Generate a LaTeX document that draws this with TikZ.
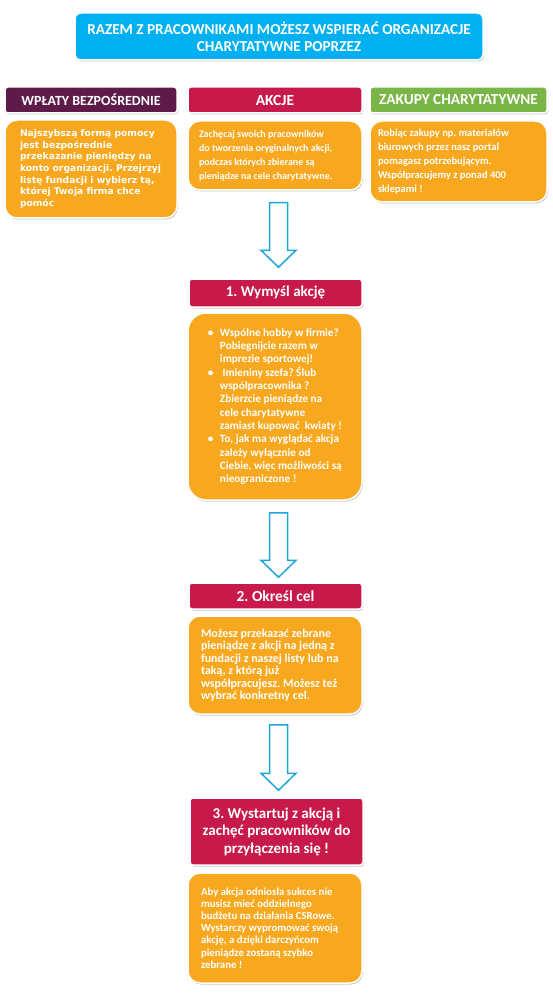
\documentclass[tikz,border=0pt]{standalone}
\usepackage{fontspec}
\setmainfont{Carlito}
\newfontfamily\verd{DejaVu Sans}
\usetikzlibrary{shadows,calc}
\frenchspacing
\definecolor{cyanbox}{RGB}{0,176,240}
\definecolor{plum}{RGB}{94,27,74}
\definecolor{crimson}{RGB}{200,26,74}
\definecolor{leaf}{RGB}{122,181,72}
\definecolor{amber}{RGB}{248,168,30}
\definecolor{arrowblue}{RGB}{30,166,216}
\newcommand\bul{\makebox[12pt][l]{•}}
\newcommand\ind{\hspace*{12pt}}
\newcommand\blockarrow[4]{%
  \draw[blockarr] let \p1=(#1.south -| ax), \p2=(#2.north -| ax) in
    (\x1-9pt,\y1-#3) -- (\x1+9pt,\y1-#3) -- (\x1+9pt,\y2+#4+17pt)
    -- (\x1+17.5pt,\y2+#4+17pt) -- (\x1,\y2+#4) -- (\x1-17.5pt,\y2+#4+17pt)
    -- (\x1-9pt,\y2+#4+17pt) -- cycle;}
\tikzset{
  box/.style={draw=white, line width=1.5pt, text=white, inner sep=0pt,
    drop shadow={shadow xshift=1pt, shadow yshift=-1.5pt, opacity=0.35, fill=black!60}},
  titlebox/.style={box, fill=cyanbox, rounded corners=6pt, align=center,
    font=\fontsize{15.2}{17}\selectfont\bfseries},
  hdr/.style={box, rounded corners=3pt, minimum height=26pt, align=center,
    font=\fontsize{15.5}{17}\selectfont\bfseries},
  obox/.style={box, fill=amber, rounded corners=12pt, align=left,
    font=\fontsize{10.5}{13}\selectfont\bfseries},
  blockarr/.style={draw=arrowblue, line width=1.5pt, fill=white, line join=miter}
}
\begin{document}
\begin{tikzpicture}[x=1pt,y=-1pt]
\fill[white] (0,0) rectangle (553,1000);
\useasboundingbox (0,0) rectangle (553,1000);
\coordinate (ax) at (278.5,0);

\node[titlebox, minimum width=408pt, minimum height=47pt] (title) at (279,36.5)
  {RAZEM Z PRACOWNIKAMI MOŻESZ WSPIERAĆ ORGANIZACJE\\CHARYTATYWNE POPRZEZ};

\node[hdr, fill=plum, minimum width=172pt, font=\fontsize{14}{16}\selectfont\bfseries] (h1) at (91,100) {WPŁATY BEZPOŚREDNIE};
\node[hdr, fill=crimson, minimum width=174pt] (h2) at (275,100) {AKCJE};
\node[hdr, fill=leaf, minimum width=177pt, font=\fontsize{15.3}{17}\selectfont\bfseries] (h3) at (458.5,100) {ZAKUPY CHARYTATYWNE};

\node[obox, minimum width=172pt, minimum height=98pt, font=\verd\fontsize{9.2}{11.7}\selectfont\bfseries] (o1) at (91,169)
  {\makebox[142pt][l]{Najszybszą formą pomocy}\\jest bezpośrednie\\przekazanie pieniędzy na\\konto organizacji. Przejrzyj\\listę fundacji i wybierz tą,\\której Twoja firma chce\\pomóc};
\node[obox, minimum width=174pt, minimum height=69pt, font=\fontsize{10}{14}\selectfont\bfseries] (o2) at (275,155.5)
  {\makebox[152pt][l]{Zachęcaj swoich pracowników}\\do tworzenia oryginalnych akcji,\\podczas których zbierane są\\pieniądze na cele charytatywne.};
\node[obox, minimum width=177pt, minimum height=81pt, font=\fontsize{10.5}{14}\selectfont\bfseries] (o3) at (458.5,161.5)
  {\makebox[161pt][l]{Robiąc zakupy np. materiałów}\\biurowych przez nasz portal\\pomagasz potrzebującym.\\Współpracujemy z ponad 400\\sklepami !};

\node[hdr, fill=crimson, minimum width=173pt, minimum height=28pt, font=\fontsize{15}{17}\selectfont\bfseries] (s1h) at (275.5,293) {1. Wymyśl akcję};
\node[obox, rounded corners=18pt, minimum width=174pt, minimum height=187pt, font=\fontsize{11.2}{13.3}\selectfont\bfseries] (s1) at (275,406.5)
  {\makebox[128pt][l]{\bul Wspólne hobby w firmie?}\\\ind Pobiegnijcie razem w\\\ind imprezie sportowej!\\\bul\ Imieniny szefa? Ślub\\\ind współpracownika ?\\\ind Zbierzcie pieniądze na\\\ind cele charytatywne\\\ind zamiast kupować\ \ kwiaty !\\\bul To, jak ma wyglądać akcja\\\ind zależy wyłącznie od\\\ind Ciebie, więc możliwości są\\\ind nieograniczone !};

\node[hdr, fill=crimson, minimum width=173pt, font=\fontsize{15.4}{17}\selectfont\bfseries] (s2h) at (275.5,596) {2. Określ cel};
\node[obox, minimum width=174pt, minimum height=98pt, font=\fontsize{12}{12.5}\selectfont\bfseries] (s2) at (275,665)
  {\makebox[148pt][l]{Możesz przekazać zebrane}\\pieniądze z akcji na jedną z\\fundacji z naszej listy lub na\\taką, z którą już\\współpracujesz. Możesz też\\wybrać konkretny cel.};

\node[hdr, fill=crimson, minimum width=173pt, minimum height=67pt, font=\fontsize{15}{17.5}\selectfont\bfseries] (s3h) at (276.5,831.5) {3. Wystartuj z akcją i\\zachęć pracowników do\\przyłączenia się !};
\node[obox, minimum width=174pt, minimum height=110pt, font=\fontsize{10.8}{12.2}\selectfont\bfseries] (s3) at (275,928)
  {\makebox[148pt][l]{Aby akcja odniosła sukces nie}\\musisz mieć oddzielnego\\budżetu na działania CSRowe.\\Wystarczy wypromować swoją\\akcję, a dzięki darczyńcom\\pieniądze zostaną szybko\\zebrane !};

\blockarrow{o2}{s1h}{12pt}{11pt}
\blockarrow{s1}{s2h}{12pt}{5pt}
\blockarrow{s2}{s3h}{10pt}{7pt}
\end{tikzpicture}
\end{document}
